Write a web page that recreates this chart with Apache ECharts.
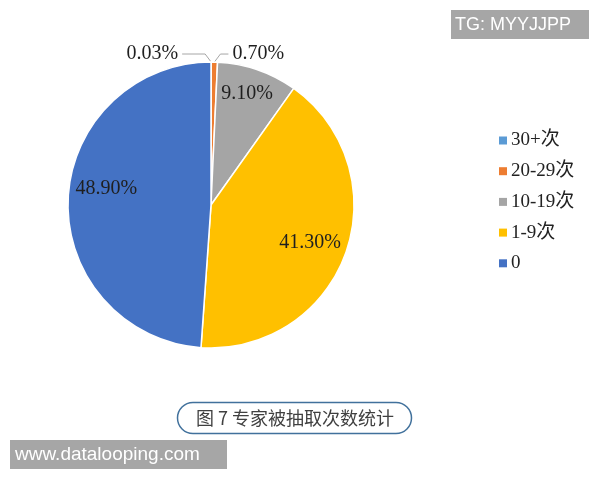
<!DOCTYPE html>
<html>
<head>
<meta charset="utf-8">
<script src="https://cdn.jsdelivr.net/npm/echarts@6/dist/echarts.min.js"></script>
<style>html,body{margin:0;padding:0;background:#fff;}#c{width:600px;height:480px;}</style>
</head>
<body>
<div id="c"></div>
<script>
var categories = ['30+次', '20-29次', '10-19次', '1-9次', '0'];
var values = [0.03, 0.70, 9.10, 41.30, 48.90];
var colors = ['#5B9BD5', '#ED7D31', '#A5A5A5', '#FFC000', '#4472C4'];
var captionText = '图 7 专家被抽取次数统计';
var watermarkTop = 'TG: MYYJJPP';
var watermarkBottom = 'www.datalooping.com';

var CX = 211, CY = 205, R = 143;
var insideRatio = [0, 0, 0.815, 0.74, 0.74];
var insideAngle = [0, 0, -1, 1, 6.6];

var chart = echarts.init(document.getElementById('c'), null, {renderer: 'canvas'});
var data = categories.map(function (n, i) {
  var d = {name: n, value: values[i], itemStyle: {color: colors[i]}};
  if (i < 2) d.label = {position: 'outside'};
  return d;
});
chart.setOption({
  animation: false,
  backgroundColor: '#fff',
  legend: {
    orient: 'vertical',
    left: 494,
    top: 126,
    itemWidth: 8,
    itemHeight: 8,
    itemGap: 11.7,
    icon: 'rect',
    itemStyle: {borderWidth: 0},
    data: categories,
    textStyle: {fontFamily: 'Liberation Serif, Noto Sans CJK SC', fontSize: 19, color: '#222', lineHeight: 19, padding: [0, 0, 0, -1]}
  },
  series: [{
    type: 'pie',
    center: [CX, CY],
    radius: R,
    startAngle: 90,
    clockwise: true,
    avoidLabelOverlap: false,
    data: data,
    itemStyle: {borderColor: '#fff', borderWidth: 1.5},
    label: {
      show: true,
      position: 'inside',
      formatter: function (p) { return p.value.toFixed(2) + '%'; },
      fontFamily: 'Liberation Serif',
      fontSize: 20,
      color: '#1f1f1f'
    },
    labelLine: {show: true, length: 10, length2: 9, lineStyle: {color: '#A6A6A6', width: 1}},
    labelLayout: function (p) {
      var i = p.dataIndex;
      var r = p.labelRect;
      var lx = r.x + r.width / 2, ly = r.y + r.height / 2;
      var pts = p.labelLinePoints;
      if (i < 2 && pts && pts.length) {
        var s = i === 0 ? -1 : 1;
        var p0 = pts[0];
        var h = i === 0 ? 29 : 14;
        var line = [[p0[0], p0[1]], [p0[0] + s * 6, p0[1] - 8], [p0[0] + s * h, p0[1] - 8]];
        return {
          x: p0[0] + s * (h + 4), y: p0[1] - 8,
          align: i === 0 ? 'right' : 'left', verticalAlign: 'middle',
          labelLinePoints: line
        };
      }
      if (i >= 2) {
        var dx = lx - CX, dy = ly - CY;
        var a = Math.atan2(dy, dx) + insideAngle[i] * Math.PI / 180;
        var t = R * insideRatio[i];
        return {x: CX + Math.cos(a) * t, y: CY + Math.sin(a) * t, align: 'center', verticalAlign: 'middle'};
      }
      return {};
    }
  }],
  graphic: [
    {type: 'rect', shape: {x: 177.5, y: 402.5, width: 234, height: 31, r: 15.5}, style: {fill: '#fff', stroke: '#41719C', lineWidth: 1.5}},
    {type: 'text', x: 295, y: 418.5, style: {text: captionText, fill: '#404040', font: '18px "Noto Sans CJK SC"', align: 'center', verticalAlign: 'middle'}},
    {type: 'rect', shape: {x: 451, y: 10, width: 138, height: 29}, style: {fill: '#A6A6A6'}},
    {type: 'text', x: 455, y: 25, style: {text: watermarkTop, fill: '#fff', font: '18px "Liberation Sans"', verticalAlign: 'middle'}},
    {type: 'rect', shape: {x: 10, y: 440, width: 217, height: 29}, style: {fill: '#A6A6A6'}},
    {type: 'text', x: 15, y: 455, style: {text: watermarkBottom, fill: '#fff', font: '19px "Liberation Sans"', verticalAlign: 'middle'}}
  ]
});
</script>
</body>
</html>
